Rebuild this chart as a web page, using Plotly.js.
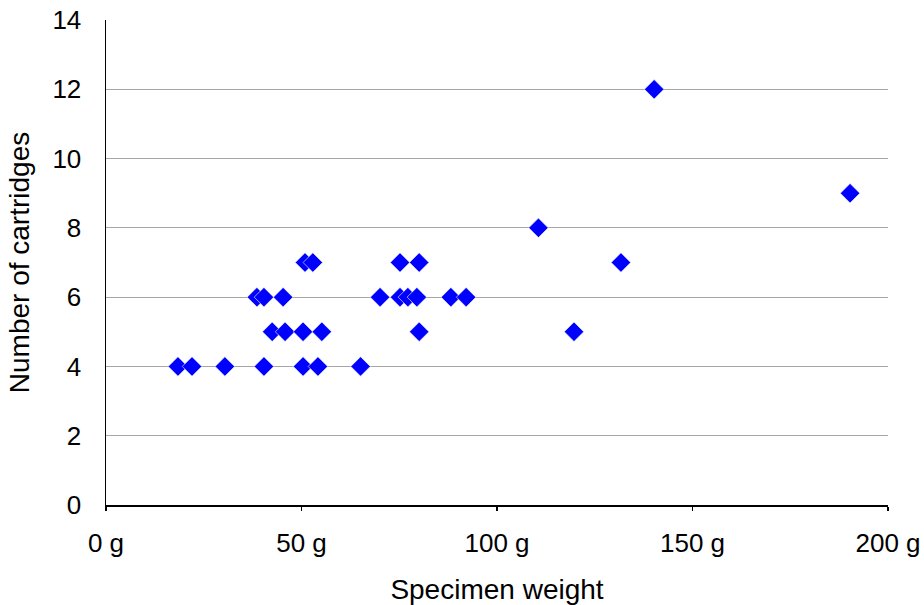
<!DOCTYPE html>
<html>
<head>
<meta charset="utf-8">
<script src="https://cdn.plot.ly/plotly-3.0.1.min.js"></script>
<style>html,body{margin:0;padding:0;background:#fff;}#chart{width:924px;height:605px;}</style>
</head>
<body>
<div id="chart"></div>
<script>
// Specimen weight (g)
const weights = [18.4, 22.0, 30.4, 40.4, 50.4, 54.2, 65.1,
                 42.5, 45.8, 50.4, 55.2, 80.1, 119.7,
                 38.6, 40.4, 45.3, 70.1, 75.2, 77.2, 79.5, 88.2, 92.1,
                 50.9, 52.9, 75.2, 80.1, 131.7,
                 110.6, 190.3, 140.2];
// Number of cartridges
const cartridges = [4, 4, 4, 4, 4, 4, 4,
                    5, 5, 5, 5, 5, 5,
                    6, 6, 6, 6, 6, 6, 6, 6, 6,
                    7, 7, 7, 7, 7,
                    8, 9, 12];
const xTickVals = [0, 50, 100, 150, 200];
const xTickText = ['0 g', '50 g', '100 g', '150 g', '200 g'];
const yTickVals = [0, 2, 4, 6, 8, 10, 12, 14];

const trace = {
  x: weights, y: cartridges, type: 'scatter', mode: 'markers',
  marker: {symbol: 'diamond', size: 15, color: '#0000ff', line: {color: '#ffffff', width: 0.6}},
  hoverinfo: 'x+y'
};
const font = {family: 'Liberation Sans, Arial, sans-serif', color: '#000'};
const layout = {
  width: 924, height: 605,
  margin: {l: 106, r: 36, t: 20, b: 100},
  paper_bgcolor: '#fff', plot_bgcolor: '#fff',
  showlegend: false,
  font: font,
  xaxis: {
    range: [0, 200], tickvals: xTickVals, ticktext: xTickText,
    showgrid: false, zeroline: false,
    showline: true, linecolor: '#000', linewidth: 1.5,
    ticks: 'outside', ticklen: 4, tickcolor: '#000', tickwidth: 1.5,
    ticklabelstandoff: 10,
    tickfont: {size: 26, family: font.family, color: '#000'},
    title: {text: 'Specimen weight', font: {size: 28, family: font.family, color: '#000'}, standoff: 24},
    fixedrange: true
  },
  yaxis: {
    range: [0, 14], tickvals: yTickVals,
    showgrid: true, gridcolor: '#a6a6a6', gridwidth: 1,
    zeroline: false,
    showline: true, linecolor: '#000', linewidth: 1.5,
    ticks: '', ticklabelstandoff: 18,
    tickfont: {size: 26, family: font.family, color: '#000'},
    title: {text: 'Number of cartridges', font: {size: 28, family: font.family, color: '#000'}, standoff: 14},
    fixedrange: true
  }
};
Plotly.newPlot('chart', [trace], layout, {displayModeBar: false, staticPlot: true});
</script>
</body>
</html>
